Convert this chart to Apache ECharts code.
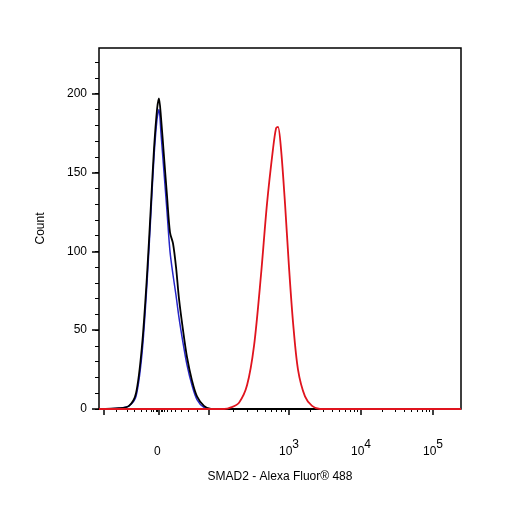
<!DOCTYPE html>
<html><head><meta charset="utf-8">
<script src="https://cdn.jsdelivr.net/npm/echarts@6/dist/echarts.min.js"></script>
<style>html,body{margin:0;padding:0;background:#fff}#c{width:506px;height:506px}</style>
</head><body><div id="c"></div>
<script>
// x in display units (decades; biexponential axis: 0 -> 1.194, 10^3 -> 3)
const blackX = [0.361,0.639,0.778,0.875,0.958,1.028,1.083,1.125,1.167,1.194,1.222,1.264,1.306,1.347,1.389,1.431,1.472,1.528,1.583,1.653,1.722,1.819,1.917,5.389];
const blackY = [0,0.5,2,10,40,85,130,165,190,197,185,160,135,112,105,90,70,50,33,18,8,2,0,0];
const blueX = [0.361,0.639,0.778,0.875,0.958,1.028,1.083,1.125,1.167,1.194,1.222,1.264,1.306,1.347,1.389,1.431,1.472,1.528,1.583,1.653,1.722,1.819,1.917,5.389];
const blueY = [0,0.5,2,8,35,80,125,160,184,190,175,150,125,100,85,72,58,42,28,15,6,1,0,0];
const redX = [0.361,2.1,2.194,2.306,2.417,2.514,2.611,2.694,2.778,2.82,2.847,2.889,2.945,3.0,3.056,3.125,3.222,3.32,3.43,5.389];
const redY = [0,0,1,4,15,40,85,130,165,178,179,165,130,90,55,25,8,2,0,0];
const xMajor = [0.431,1.194,1.889,3,4,5];
const xLabelVals = [1.194,3,4,5];
const xLabelText = ['0{s| }','10{s|3}','10{s|4}','10{s|5}'];
const yMajor = [0,50,100,150,200];

const xMinor = [];
[0.6,0.75,0.85,0.95,1.02,1.08,1.12,1.15,1.17,1.22,1.24,1.27,1.31,1.36,1.42,1.5,1.6,1.72].forEach(v=>xMinor.push(v));
for (let k=2;k<10;k++){ xMinor.push(1.889+Math.log10(k)*1.111); xMinor.push(3+Math.log10(k)); xMinor.push(4+Math.log10(k)); }
const yMinor = []; for (let v=0; v<=220; v+=10) yMinor.push(v);

const zip=(a,b)=>a.map((v,i)=>[v,b[i]]);
const chart = echarts.init(document.getElementById('c'));
const font = 'Liberation Sans, Arial, sans-serif';
chart.setOption({
  animation:false,
  grid:{left:99,right:45,top:48,bottom:97,show:true,borderColor:'#000',borderWidth:1.5},
  xAxis:[{type:'value',min:0.361,max:5.389,position:'bottom',
    axisLine:{show:false},splitLine:{show:false},
    axisTick:{show:true,length:6,lineStyle:{color:'#000',width:1.5},customValues:xMajor},
    axisLabel:{customValues:xLabelVals,margin:30,color:'#000',fontFamily:font,fontSize:12,
      formatter:v=>xLabelText[xLabelVals.indexOf(v)],
      rich:{s:{fontSize:12,verticalAlign:'bottom',padding:[0,0,14,0],fontFamily:font,color:'#000'}}},
    name:'SMAD2 - Alexa Fluor® 488',nameLocation:'middle',nameGap:62,
    nameTextStyle:{color:'#000',fontFamily:font,fontSize:12}},
   {type:'value',min:0.361,max:5.389,position:'bottom',
    axisLine:{show:false},splitLine:{show:false},axisLabel:{show:false},
    axisTick:{show:true,length:3,lineStyle:{color:'#000',width:1},customValues:xMinor}}],
  yAxis:[{type:'value',min:0,max:229,position:'left',
    axisLine:{show:false},splitLine:{show:false},
    axisTick:{show:true,length:7,lineStyle:{color:'#000',width:1.5},customValues:yMajor},
    axisLabel:{customValues:yMajor,margin:12,color:'#000',fontFamily:font,fontSize:12},
    name:'Count',nameLocation:'middle',nameGap:52,nameRotate:90,
    nameTextStyle:{color:'#000',fontFamily:font,fontSize:12}},
   {type:'value',min:0,max:229,position:'left',
    axisLine:{show:false},splitLine:{show:false},axisLabel:{show:false},
    axisTick:{show:true,length:4,lineStyle:{color:'#000',width:1},customValues:yMinor}}],
  series:[
    {type:'line',data:zip(blueX,blueY),smooth:0.3,symbol:'none',lineStyle:{color:'#2626c8',width:1.5}},
    {type:'line',data:zip(blackX,blackY),smooth:0.3,symbol:'none',lineStyle:{color:'#000',width:1.8}},
    {type:'line',data:zip(redX,redY),smooth:0.3,symbol:'none',lineStyle:{color:'#e0141e',width:1.8}}
  ]
});
</script></body></html>
